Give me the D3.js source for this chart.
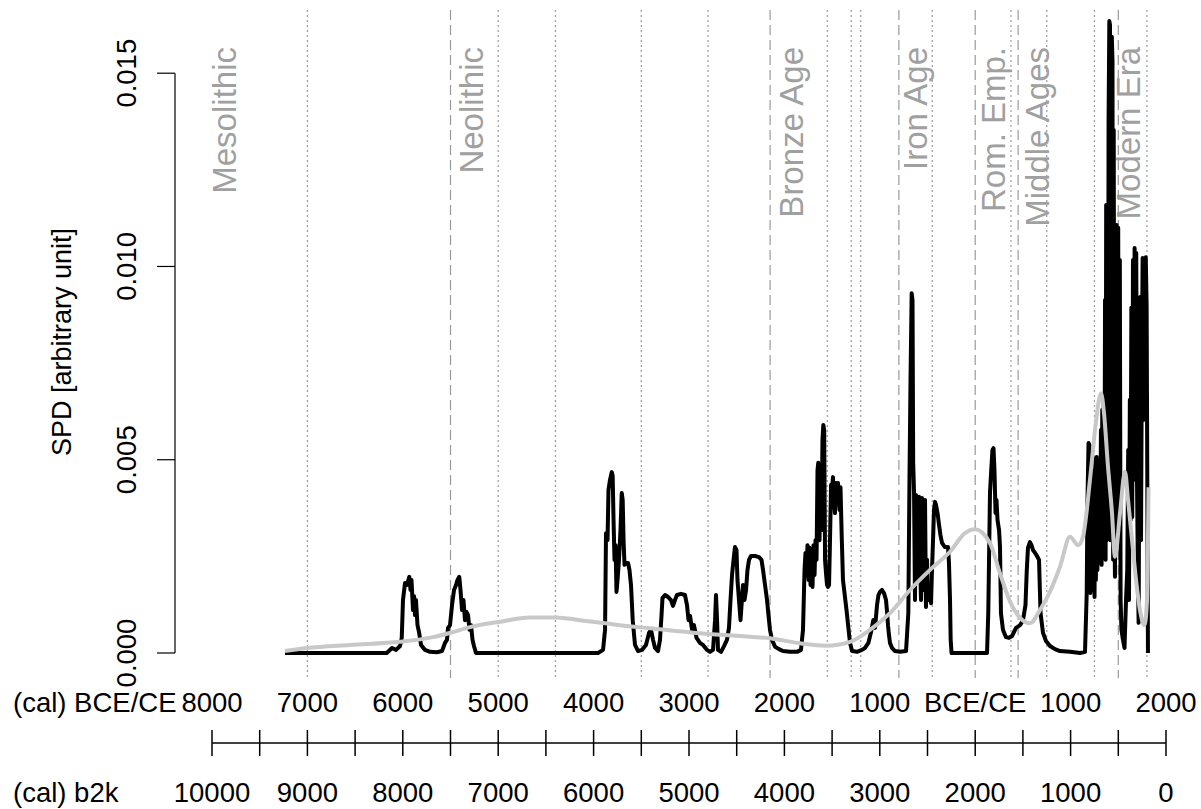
<!DOCTYPE html>
<html>
<head>
<meta charset="utf-8">
<script src="https://cdn.jsdelivr.net/npm/d3@7"></script>
<style>
  body { margin: 0; background: #fff; }
  svg { display: block; font-family: "Liberation Sans", Arial, sans-serif; }
</style>
</head>
<body>
<div id="chart"></div>
<script>
// summed probability density, [b2k, value]
const spd = [
  [9235,0],[8169,0],[8113,0.00013],[8071,0.00008],[8029,0.00018],[8011,0.00039],[7998,0.00137],[7977,0.00181],[7956,0.00176],[7932,0.00197],[7919,0.00163],[7909,0.00189],[7893,0.00111],[7882,0.00147],[7872,0.00098],[7862,0.00137],[7846,0.00072],[7830,0.00054],[7809,0.00021],[7767,0.00008],[7715,0.00003],[7641,0.00002],[7589,0.00005],[7558,0.00026],[7537,0.00034],[7526,0.00065],[7505,0.00072],[7484,0.00124],[7463,0.00163],[7442,0.00176],[7427,0.00189],[7408,0.00197],[7395,0.00163],[7379,0.00111],[7364,0.00137],[7348,0.00085],[7332,0.00106],[7316,0.00098],[7301,0.00060],[7285,0.00072],[7269,0.00034],[7254,0.00018],[7233,0],
  [5954,0],[5901,0.00008],[5880,0.00060],[5870,0.00310],[5854,0.00292],[5844,0.00422],[5828,0.00448],[5810,0.00468],[5800,0.00458],[5791,0.00344],[5781,0.00241],[5770,0.00279],[5760,0.00158],[5749,0.00189],[5734,0.00241],[5718,0.00318],[5705,0.00414],[5695,0.00396],[5686,0.00292],[5676,0.00228],[5666,0.00233],[5639,0.00233],[5624,0.00215],[5608,0.00176],[5590,0.00085],[5566,0.00021],[5534,0.00005],[5493,0.00008],[5451,0.00021],[5419,0.00052],[5398,0.00060],[5377,0.00034],[5356,0.00013],[5325,0.00005],[5304,0.00034],[5288,0.00098],[5278,0.00142],[5251,0.00150],[5220,0.00145],[5189,0.00137],[5168,0.00122],[5147,0.00137],[5126,0.00150],[5084,0.00153],[5042,0.00150],[5021,0.00124],[5005,0.00085],[4989,0.00096],[4968,0.00060],[4948,0.00072],[4921,0.00039],[4885,0.00026],[4853,0.00021],[4811,0.00008],[4780,0.00003],[4748,0.00008],[4727,0.00085],[4717,0.00150],[4706,0.00085],[4696,0.00008],[4664,0.00003],[4633,0.00018],[4602,0.00034],[4581,0.00065],[4565,0.00137],[4549,0.00202],[4533,0.00241],[4518,0.00274],[4502,0.00266],[4492,0.00189],[4476,0.00137],[4460,0.00085],[4444,0.00142],[4434,0.00176],[4418,0.00137],[4402,0.00163],[4387,0.00215],[4371,0.00241],[4350,0.00251],[4308,0.00251],[4266,0.00248],[4240,0.00241],[4224,0.00215],[4203,0.00176],[4182,0.00137],[4167,0.00098],[4151,0.00060],[4130,0.00034],[4098,0.00016],[4057,0.00010],[4015,0.00005],[3941,0.00003],[3868,0.00003],[3826,0.00008],[3805,0.00060],[3789,0.00215],
  [3779,0.00259],[3768,0.00202],[3758,0.00279],[3747,0.00189],[3737,0.00272],[3726,0.00176],[3716,0.00266],[3705,0.00171],[3695,0.00279],[3684,0.00202],[3674,0.00292],[3663,0.00241],[3653,0.00473],[3645,0.00492],[3632,0.00292],[3622,0.00448],[3611,0.00318],[3601,0.00551],[3592,0.00590],[3583,0.00577],[3574,0.00241],[3564,0.00207],[3553,0.00176],[3543,0.00171],[3532,0.00176],[3522,0.00292],[3511,0.00435],[3501,0.00422],[3491,0.00455],[3480,0.00396],[3470,0.00362],[3459,0.00440],[3449,0.00409],[3438,0.00440],[3422,0.00370],[3412,0.00429],[3399,0.00300],[3386,0.00189],[3365,0.00145],[3349,0.00111],[3330,0.00067],[3312,0.00026],[3291,0.00005],[3239,0.00003],[3187,0.00008],[3155,0.00013],[3120,0.00026],[3092,0.00054],[3068,0.00085],[3050,0.00065],[3029,0.00124],[3014,0.00150],[2998,0.00158],[2977,0.00163],[2956,0.00155],[2935,0.00137],[2924,0.00106],[2914,0.00072],[2904,0.00047],[2893,0.00026],[2872,0.00013],[2841,0.00005],[2788,0.00003],[2725,0.00005],
  [2701,0.00103],[2689,0.00448],[2678,0.00706],[2666,0.00931],[2657,0.00913],[2650,0.00492],[2641,0.00414],[2631,0.00137],[2621,0.00409],[2610,0.00292],[2600,0.00189],[2589,0.00404],[2579,0.00241],[2568,0.00137],[2558,0.00401],[2547,0.00292],[2537,0.00163],[2526,0.00396],[2516,0.00119],[2505,0.00241],[2495,0.00137],[2479,0.00176],[2463,0.00129],[2453,0.00215],[2442,0.00292],[2432,0.00370],[2421,0.00391],[2411,0.00383],[2395,0.00362],[2379,0.00331],[2364,0.00305],[2348,0.00285],[2317,0.00274],[2285,0.00274],[2275,0.00233],[2264,0.00137],[2257,0.00034],[2248,0],
  [1876,0],[1863,0.00103],[1855,0.00241],[1845,0.00414],[1832,0.00473],[1819,0.00525],[1808,0.00530],[1798,0.00473],[1787,0.00362],[1777,0.00396],[1766,0.00344],[1750,0.00318],[1740,0.00274],[1730,0.00103],[1709,0.00060],[1677,0.00041],[1646,0.00039],[1614,0.00044],[1572,0.00065],[1530,0.00072],[1499,0.00085],[1473,0.00124],[1460,0.00210],[1447,0.00272],[1426,0.00287],[1410,0.00279],[1394,0.00266],[1373,0.00259],[1352,0.00251],[1331,0.00241],[1315,0.00103],[1289,0.00052],[1258,0.00031],[1216,0.00018],[1164,0.00010],[1111,0.00005],[1006,0.00003],[901,0],
  [849,0.00003],[831,0.00155],[823,0.00396],[812,0.00543],[802,0.00538],[793,0.00155],[786,0.00318],[779,0.00163],[771,0.00352],[764,0.00163],[757,0.00473],[749,0.00145],[742,0.00504],[735,0.00189],[726,0.00507],[719,0.00215],[712,0.00448],[704,0.00233],[697,0.00473],[690,0.00241],[682,0.00577],[675,0.00228],[668,0.00629],[660,0.00248],[653,0.00655],[646,0.00251],[639,0.00913],[633,0.00241],[627,0.01159],[621,0.00292],[614,0.01043],[608,0.00396],[602,0.01379],[594,0.01635],[587,0.01625],[581,0.00292],[574,0.01431],[568,0.01594],[561,0.01534],[554,0.00241],[548,0.01353],[541,0.00344],[535,0.00197],[526,0.00655],[518,0.01107],[509,0.00396],[501,0.01100],[493,0.00336],[484,0.01017],[476,0.00137],[467,0.00060],[451,0.00034],[435,0.00013],[419,0.00137],[406,0.00215],[396,0.00525],[388,0.00137],[379,0.00655],[371,0.00344],[363,0.00893],[354,0.00352],[346,0.01017],[338,0.00448],[329,0.01048],[321,0.00603],[312,0.01035],[304,0.00448],[296,0.00241],[287,0.00078],[279,0.00525],[270,0.00921],[262,0.00292],[254,0.00706],[245,0.01022],[237,0.00603],[229,0.01012],[220,0.00784],[212,0.01024],[203,0.00895],[196,0.00448],[189,0]
];

// smoothed SPD (grey)
const spdSmooth = [
  [9235,0.00005],[9004,0.00013],[8553,0.00021],[8029,0.00029],[7683,0.00041],[7505,0.00052],[7295,0.00067],[6981,0.00081],[6667,0.00092],[6394,0.00092],[6142,0.00085],[5723,0.00072],[5409,0.00064],[4885,0.00051],[4361,0.00042],[4151,0.00038],[3836,0.00025],[3564,0.00019],[3312,0.00029],[3103,0.00060],[2893,0.00103],[2683,0.00163],[2474,0.00215],[2264,0.00262],[2107,0.00310],[2002,0.00320],[1845,0.00284],[1740,0.00206],[1635,0.00133],[1530,0.00091],[1426,0.00077],[1321,0.00111],[1216,0.00159],[1111,0.00223],[1006,0.00301],[922,0.00279],[870,0.00301],[797,0.00448],[744,0.00577],[681,0.00672],[650,0.00621],[608,0.00482],[566,0.00362],[535,0.00249],[482,0.00362],[430,0.00469],[398,0.00396],[356,0.00292],[314,0.00189],[273,0.00111],[225,0.00072],[199,0.00137],[183,0.00429]
];

// period boundaries (b2k)
const periodStarts = [7500, 4150, 2800, 2000, 1550, 500];
const subPeriods = [9000, 7000, 6400, 5500, 4800, 3550, 3300, 3200, 2450, 1625, 1250, 750, 200];
const periodNames = ["Mesolithic", "Neolithic", "Bronze Age", "Iron Age", "Rom. Emp.", "Middle Ages", "Modern Era"];
const periodLabelAt = [9870, 7280, 3925, 2630, 1815, 1350, 400];

const yTicks = [0, 0.005, 0.010, 0.015];
const minorTicks = d3.range(0, 10001, 500);
const b2kLabels = [10000, 9000, 8000, 7000, 6000, 5000, 4000, 3000, 2000, 1000, 0];
const bceLabels = ["8000", "7000", "6000", "5000", "4000", "3000", "2000", "1000", "BCE/CE", "1000", "2000"];

const width = 1201, height = 809;
const font = 27.5;

const svg = d3.select("#chart").append("svg")
    .attr("width", width)
    .attr("height", height);

const x = d3.scaleLinear().domain([10000, 0]).range([212, 1166]);
const y = d3.scaleLinear().domain([0, 0.015]).range([653, 73.2]);

// period lines
svg.append("g").selectAll("line")
  .data(subPeriods)
  .enter().append("line")
    .attr("x1", d => x(d)).attr("x2", d => x(d))
    .attr("y1", 10).attr("y2", 678)
    .attr("stroke", "#9a9a9a")
    .attr("stroke-width", 1.2)
    .attr("stroke-dasharray", "2,3");

svg.append("g").selectAll("line")
  .data(periodStarts)
  .enter().append("line")
    .attr("x1", d => x(d)).attr("x2", d => x(d))
    .attr("y1", 10).attr("y2", 678)
    .attr("stroke", "#9a9a9a")
    .attr("stroke-width", 1.2)
    .attr("stroke-dasharray", "10,5");

svg.append("g").selectAll("text")
  .data(periodNames)
  .enter().append("text")
    .attr("transform", (d, i) => `translate(${x(periodLabelAt[i]) + 11.8},47) rotate(-90)`)
    .attr("text-anchor", "end")
    .attr("font-size", 33)
    .attr("fill", "#a0a0a0")
    .text(d => d);

// SPD lines
const line = d3.line().x(d => x(d[0])).y(d => y(d[1]));

svg.append("path")
    .attr("d", line(spd))
    .attr("fill", "none")
    .attr("stroke", "#000")
    .attr("stroke-width", 4)
    .attr("stroke-linejoin", "round");

svg.append("path")
    .attr("d", line.curve(d3.curveMonotoneX)(spdSmooth))
    .attr("fill", "none")
    .attr("stroke", "#c8c8c8")
    .attr("stroke-width", 4)
    .attr("stroke-linejoin", "round");

// y axis
const ya = svg.append("g");
ya.append("line")
    .attr("x1", 175).attr("x2", 175)
    .attr("y1", y(0)).attr("y2", y(0.015))
    .attr("stroke", "#000").attr("stroke-width", 1.2);
ya.selectAll(".tick").data(yTicks).enter().append("line")
    .attr("x1", 157).attr("x2", 175)
    .attr("y1", d => y(d)).attr("y2", d => y(d))
    .attr("stroke", "#000").attr("stroke-width", 1.2);
ya.selectAll("text").data(yTicks).enter().append("text")
    .attr("transform", d => `translate(136,${y(d)}) rotate(-90)`)
    .attr("text-anchor", "middle")
    .attr("font-size", font)
    .text(d => d3.format(".3f")(d));

svg.append("text")
    .attr("transform", "translate(71,342) rotate(-90)")
    .attr("text-anchor", "middle")
    .attr("font-size", 27)
    .text("SPD [arbitrary unit]");

// bottom double axis
const xa = svg.append("g");
xa.append("line")
    .attr("x1", x(10000)).attr("x2", x(0))
    .attr("y1", 743).attr("y2", 743)
    .attr("stroke", "#000").attr("stroke-width", 1.5);
xa.selectAll(".tick").data(minorTicks).enter().append("line")
    .attr("x1", d => x(d)).attr("x2", d => x(d))
    .attr("y1", 730).attr("y2", 756)
    .attr("stroke", "#000").attr("stroke-width", 1.5);

xa.selectAll(".bce").data(bceLabels).enter().append("text")
    .attr("x", (d, i) => x(b2kLabels[i]))
    .attr("y", 712)
    .attr("text-anchor", "middle")
    .attr("font-size", font)
    .text(d => d);

xa.selectAll(".b2k").data(b2kLabels).enter().append("text")
    .attr("x", d => x(d))
    .attr("y", 802)
    .attr("text-anchor", "middle")
    .attr("font-size", font)
    .text(d => d);

xa.append("text").attr("x", 13).attr("y", 712)
    .attr("font-size", font).text("(cal) BCE/CE");
xa.append("text").attr("x", 13).attr("y", 802)
    .attr("font-size", font).text("(cal) b2k");
</script>
</body>
</html>
